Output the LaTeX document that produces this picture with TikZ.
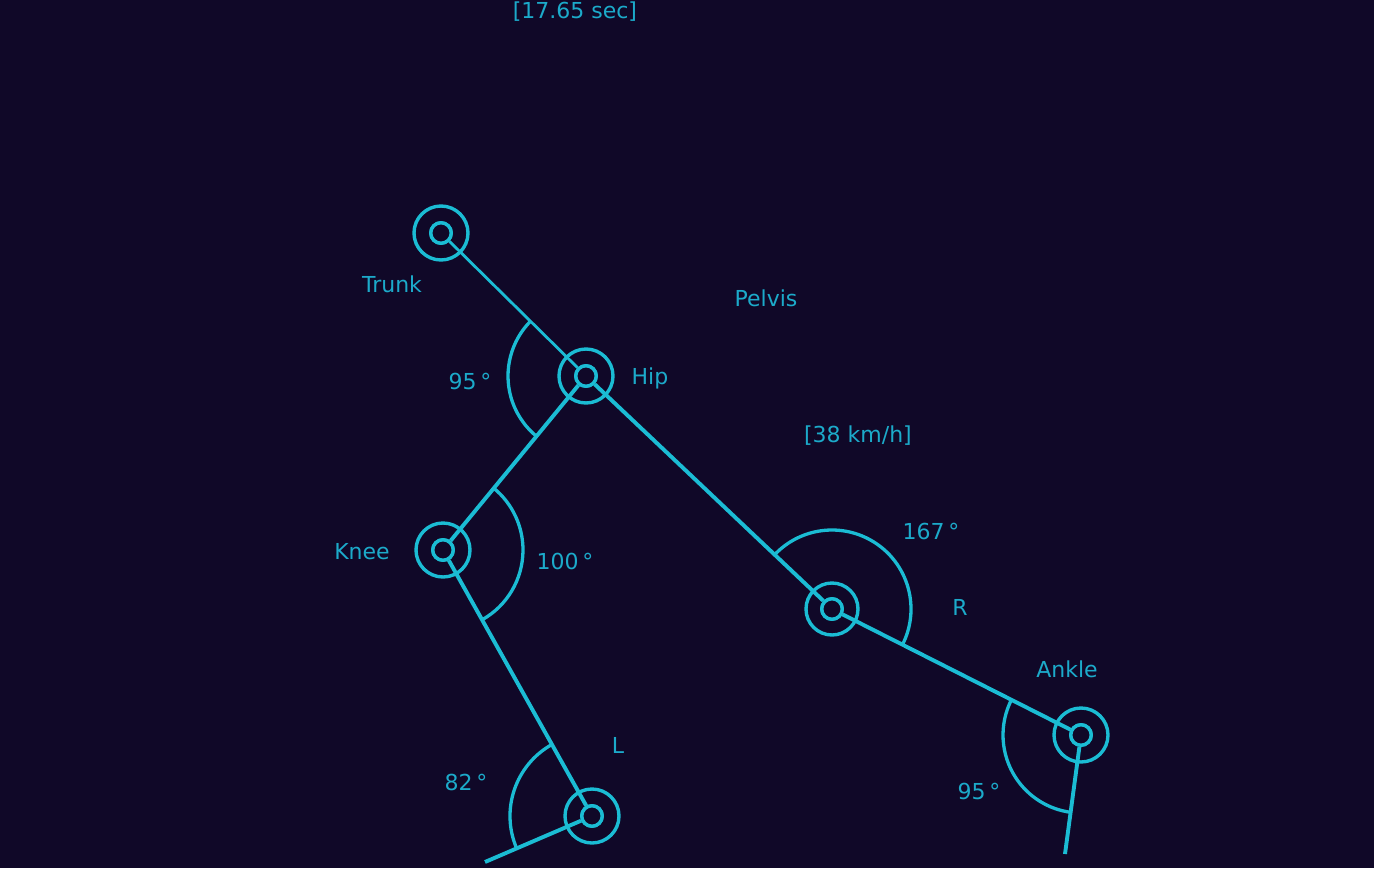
\documentclass[tikz,border=0pt]{standalone}
\usepackage{fontspec}
\setmainfont{DejaVu Sans}
\definecolor{bgc}{HTML}{100828}
\definecolor{linec}{HTML}{1BBCD4}
\definecolor{textc}{HTML}{1CAACA}
\begin{document}
\begin{tikzpicture}[x=1pt,y=1pt,
  joint/.style={circle,draw=linec,line width=3.4pt,minimum size=20.5pt,inner sep=0pt,fill=bgc},
  ring/.style={draw=linec,line width=3.4pt},
  bone/.style={draw=linec,line width=3.9pt},
  thinbone/.style={draw=linec,line width=2.8pt},
  anglearc/.style={draw=linec,line width=3.3pt},
  lbl/.style={text=textc,font=\fontsize{22}{26}\selectfont,inner sep=0pt}]
\fill[bgc] (0,0) rectangle (1374,-868);
\useasboundingbox (0,0) rectangle (1374,-868);
% joints
\node[joint] (trunk) at (441,-233) {};
\node[joint] (hip) at (586,-376) {};
\node[joint] (lknee) at (443,-550) {};
\node[joint] (lankle) at (592,-816) {};
\node[joint] (rknee) at (832,-609) {};
\node[joint] (rankle) at (1081,-735) {};
\coordinate (lfoot) at (485,-862);
\coordinate (rfoot) at (1065,-854);
% outer rings
\foreach \j in {trunk,hip,lknee,lankle,rankle}
  \draw[ring] (\j.center) circle[radius=27];
\draw[ring] (rknee.center) circle[radius=26];
% bones
\draw[thinbone] (trunk) -- (hip);
\draw[bone] (hip) -- (lknee);
\draw[bone] (lknee) -- (lankle);
\draw[bone] (lankle) -- (lfoot);
\draw[bone] (hip) -- (rknee);
\draw[bone] (rknee) -- (rankle);
\draw[bone] (rankle) -- (rfoot);
% redraw joints on top
\foreach \j in {trunk,hip,lknee,lankle,rknee,rankle}
  \node[joint] at (\j.center) {};
% angle arcs
\draw[anglearc] ([shift={(135.4:78)}]hip.center) arc[start angle=135.4,end angle=230.6,radius=78];
\draw[anglearc] ([shift={(-60.6:80)}]lknee.center) arc[start angle=-60.6,end angle=50.6,radius=80];
\draw[anglearc] ([shift={(119.3:82)}]lankle.center) arc[start angle=119.3,end angle=203.3,radius=82];
\draw[anglearc] ([shift={(-26.8:79)}]rknee.center) arc[start angle=-26.8,end angle=136.6,radius=79];
\draw[anglearc] ([shift={(153.2:78)}]rankle.center) arc[start angle=153.2,end angle=262.3,radius=78];
% labels
\node[lbl] (tsec) at (575,-12) {[17.65 sec]};
\node[lbl] (ltrunk) at (392,-284) {Trunk};
\node[lbl] (lpelvis) at (766,-298) {Pelvis};
\node[lbl] (lhip) at (650,-378) {Hip};
\node[lbl] (ahip) at (470,-381) {95\,°};
\node[lbl] (speed) at (858,-436) {[38 km/h]};
\node[lbl] (lkneetxt) at (362,-552) {Knee};
\node[lbl] (aknee) at (565,-561) {100\,°};
\node[lbl] (arknee) at (931,-531) {167\,°};
\node[lbl] (lr) at (960,-607) {R};
\node[lbl] (lankletxt) at (1067,-669) {Ankle};
\node[lbl] (ll) at (618,-745) {L};
\node[lbl] (alankle) at (466,-782) {82\,°};
\node[lbl] (arankle) at (979,-791) {95\,°};
\end{tikzpicture}
\end{document}
